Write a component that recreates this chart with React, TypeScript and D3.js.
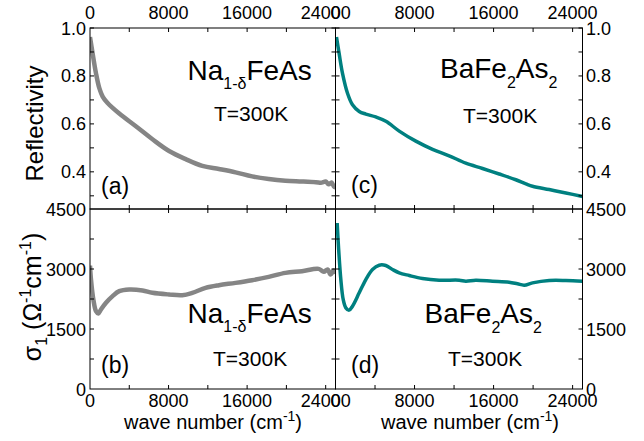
import React from "react";
import * as d3 from "d3";

// ---- data ----
const naR_w = [0, 270, 610, 950, 1290, 1790, 2980, 4670, 6360, 8050, 9745, 11440, 13130, 14820, 16510, 18200, 19900, 21590, 23000, 23600, 24000, 24300, 24600, 24850, 25000];
const naR = [0.962, 0.893, 0.811, 0.749, 0.714, 0.687, 0.643, 0.59, 0.536, 0.487, 0.453, 0.425, 0.412, 0.398, 0.381, 0.37, 0.363, 0.36, 0.357, 0.355, 0.36, 0.348, 0.356, 0.338, 0.335];

const naS_w = [0, 100, 340, 610, 850, 1120, 1630, 2300, 2980, 3990, 5350, 6360, 8050, 9400, 10420, 11770, 13130, 14820, 16510, 18200, 19900, 21590, 23280, 23800, 24200, 24500, 24800, 25000];
const naS = [3087, 2738, 2239, 1947, 1889, 1989, 2154, 2321, 2446, 2488, 2463, 2404, 2363, 2346, 2404, 2529, 2596, 2653, 2720, 2803, 2903, 2945, 3003, 2930, 2990, 2860, 2960, 2880];

const baR_w = [100, 370, 709, 1215, 1720, 2400, 3070, 4080, 5100, 6450, 8130, 9820, 11500, 13190, 14880, 16570, 18250, 19270, 19940, 21630, 23320, 25000];
const baR = [0.962, 0.893, 0.811, 0.728, 0.68, 0.652, 0.641, 0.629, 0.611, 0.57, 0.528, 0.494, 0.467, 0.436, 0.414, 0.391, 0.367, 0.35, 0.34, 0.326, 0.312, 0.297];

const baS_w = [170, 300, 540, 780, 1045, 1380, 1720, 2400, 3070, 3745, 4420, 5090, 5770, 6450, 7460, 8800, 10490, 12520, 13190, 14200, 15890, 17570, 18420, 19100, 19940, 21630, 23320, 25000];
const baS = [4150, 3568, 2737, 2238, 2029, 1972, 2071, 2404, 2737, 2987, 3095, 3087, 2987, 2903, 2837, 2763, 2720, 2720, 2695, 2720, 2695, 2670, 2629, 2596, 2653, 2712, 2712, 2695];

const xTicks = [0, 4000, 8000, 12000, 16000, 20000, 24000];
const xLabels = [0, 8000, 16000, 24000];
const rTicks = [0.3, 0.4, 0.5, 0.6, 0.7, 0.8, 0.9, 1.0];
const rLabels = ["0.4", "0.6", "0.8", "1.0"];
const sTicks = [750, 1500, 2250, 3000, 3750];
const sLabels = [0, 1500, 3000, 4500];

// ---- layout ----
const L = 90, M = 335.5, R = 582.5, T = 28, MID = 209, B = 389;
const FONT = "'Liberation Sans', Arial, sans-serif";
const GRAY = "#858585";
const TEAL = "#008080";

const xLeft = d3.scaleLinear().domain([0, 25000]).range([L, M]);
const xRight = d3.scaleLinear().domain([0, 25000]).range([M, R]);
const yR = d3.scaleLinear().domain([0.245, 1]).range([MID, T]);
const yS = d3.scaleLinear().domain([0, 4500]).range([B, MID]);

function path(xs: number[], ys: number[], x: any, y: any) {
  const line = d3.line<number>().x((_, i) => x(xs[i])).y((d) => y(d)).curve(d3.curveCatmullRom.alpha(0.5));
  return line(ys) || "";
}

const TL = 4;

function Panel({ x, y, yticks }: { x: any; y: any; yticks: number[] }) {
  const [x0, x1] = x.range();
  const [y0, y1] = y.range();
  const lines: any[] = [];
  xTicks.forEach((t, i) => {
    if (t === 0) return;
    const px = x(t);
    lines.push(<line key={"tt" + i} x1={px} x2={px} y1={y1} y2={y1 + TL} />);
    lines.push(<line key={"tb" + i} x1={px} x2={px} y1={y0} y2={y0 - TL} />);
  });
  yticks.forEach((t, i) => {
    const py = y(t);
    lines.push(<line key={"yl" + i} x1={x0} x2={x0 + TL} y1={py} y2={py} />);
    lines.push(<line key={"yr" + i} x1={x1} x2={x1 - TL} y1={py} y2={py} />);
  });
  return (
    <g stroke="#000" strokeWidth={1} fill="none">
      <rect x={x0} y={y1} width={x1 - x0} height={y0 - y1} />
      {lines}
    </g>
  );
}

export default function App() {
  const fs = 18;
  return (
    <svg width={644} height={441} style={{ position: "absolute", left: 0, top: 0, background: "#fff" }} fontFamily={FONT}>
      <defs>
        <clipPath id="ca"><rect x={L} y={T} width={M - L} height={MID - T} /></clipPath>
        <clipPath id="cb"><rect x={L} y={MID} width={M - L} height={B - MID} /></clipPath>
        <clipPath id="cc"><rect x={M} y={T} width={R - M} height={MID - T} /></clipPath>
        <clipPath id="cd"><rect x={M} y={MID} width={R - M} height={B - MID} /></clipPath>
      </defs>

      {/* curves */}
      <path d={path(naR_w, naR, xLeft, yR)} fill="none" stroke={GRAY} strokeWidth={4.5} clipPath="url(#ca)" strokeLinejoin="round" />
      <path d={path(naS_w, naS, xLeft, yS)} fill="none" stroke={GRAY} strokeWidth={4.5} clipPath="url(#cb)" strokeLinejoin="round" />
      <path d={path(baR_w, baR, xRight, yR)} fill="none" stroke={TEAL} strokeWidth={3.5} clipPath="url(#cc)" strokeLinejoin="round" />
      <path d={path(baS_w, baS, xRight, yS)} fill="none" stroke={TEAL} strokeWidth={3.5} clipPath="url(#cd)" strokeLinejoin="round" />

      {/* frames and ticks */}
      <Panel x={xLeft} y={yR} yticks={rTicks} />
      <Panel x={xLeft} y={yS} yticks={sTicks} />
      <Panel x={xRight} y={yR} yticks={rTicks} />
      <Panel x={xRight} y={yS} yticks={sTicks} />

      {/* tick labels */}
      <g fontSize={fs} fill="#000" textAnchor="middle">
        {xLabels.map((t) => (
          <text key={"lt" + t} x={xLeft(t)} y={19}>{t}</text>
        ))}
        {xLabels.map((t) => (
          <text key={"rt" + t} x={xRight(t)} y={19}>{t}</text>
        ))}
        {xLabels.map((t) => (
          <text key={"lb" + t} x={xLeft(t)} y={407}>{t}</text>
        ))}
        {xLabels.map((t) => (
          <text key={"rb" + t} x={xRight(t)} y={407}>{t}</text>
        ))}
      </g>
      <g fontSize={fs} fill="#000" textAnchor="end">
        {rLabels.map((t) => (
          <text key={"ly" + t} x={86} y={yR(+t) + 6.5}>{t}</text>
        ))}
        {sLabels.map((t) => (
          <text key={"lys" + t} x={86} y={yS(t) + 6.5}>{t}</text>
        ))}
      </g>
      <g fontSize={fs} fill="#000" textAnchor="start">
        {rLabels.map((t) => (
          <text key={"ry" + t} x={586} y={yR(+t) + 6.5}>{t}</text>
        ))}
        {sLabels.map((t) => (
          <text key={"rys" + t} x={586} y={yS(t) + 6.5}>{t}</text>
        ))}
      </g>

      {/* axis titles */}
      <text transform="translate(43,123.5) rotate(-90)" textAnchor="middle" fontSize={24} fill="#000">Reflectivity</text>
      <text transform="translate(41,297) rotate(-90)" textAnchor="middle" fontSize={25} fill="#000">
        σ<tspan fontSize={16} dy={6}>1</tspan>
        <tspan dy={-6}>{"\u00A0(Ω"}</tspan>
        <tspan fontSize={16} dy={-10}>-1</tspan>
        <tspan dy={10}>cm</tspan>
        <tspan fontSize={16} dy={-10}>-1</tspan>
        <tspan dy={10}>)</tspan>
      </text>
      <text x={213} y={429} textAnchor="middle" fontSize={20} fill="#000">
        wave number (cm<tspan fontSize={14} dy={-8}>-1</tspan><tspan dy={8}>)</tspan>
      </text>
      <text x={470} y={429} textAnchor="middle" fontSize={20} fill="#000">
        wave number (cm<tspan fontSize={14} dy={-8}>-1</tspan><tspan dy={8}>)</tspan>
      </text>

      {/* annotations */}
      <g fill="#000">
        <text x={187.5} y={79.5} fontSize={28}>Na<tspan fontSize={16} dy={9}>1-δ</tspan><tspan dy={-9}>FeAs</tspan></text>
        <text x={214} y={121} fontSize={21}>T=300K</text>
        <text x={101} y={194} fontSize={23}>(a)</text>

        <text x={187.5} y={322.7} fontSize={28}>Na<tspan fontSize={16} dy={9}>1-δ</tspan><tspan dy={-9}>FeAs</tspan></text>
        <text x={213} y={366} fontSize={21}>T=300K</text>
        <text x={101} y={372.7} fontSize={23}>(b)</text>

        <text x={440} y={78.3} fontSize={28}>BaFe<tspan fontSize={16} dy={10}>2</tspan><tspan dy={-10}>As</tspan><tspan fontSize={16} dy={10}>2</tspan></text>
        <text x={463} y={123} fontSize={21}>T=300K</text>
        <text x={351} y={192.7} fontSize={23}>(c)</text>

        <text x={424.5} y={322.7} fontSize={28}>BaFe<tspan fontSize={16} dy={10}>2</tspan><tspan dy={-10}>As</tspan><tspan fontSize={16} dy={10}>2</tspan></text>
        <text x={448} y={366} fontSize={21}>T=300K</text>
        <text x={351} y={372.7} fontSize={23}>(d)</text>
      </g>
    </svg>
  );
}
